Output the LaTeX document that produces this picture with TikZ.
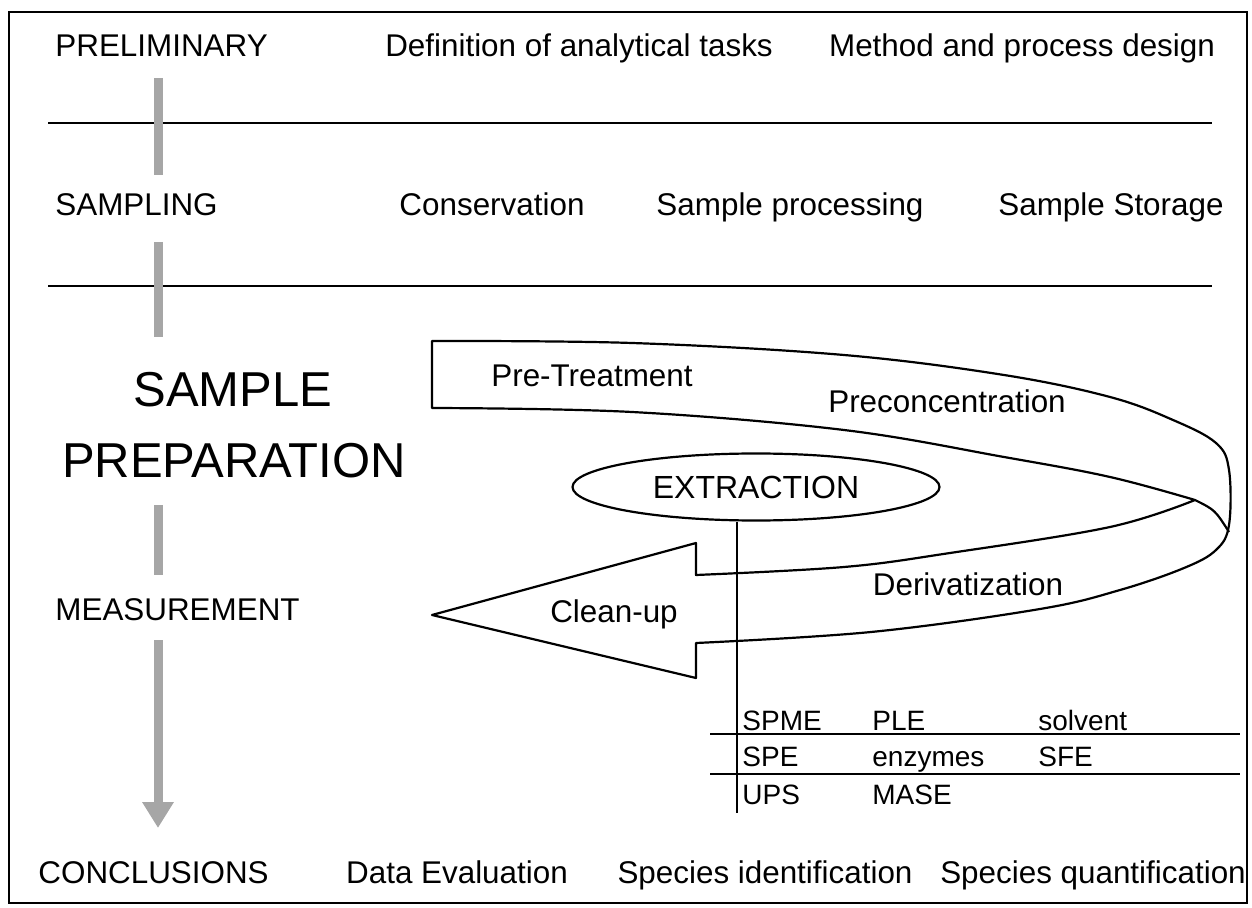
\documentclass[tikz,border=0pt]{standalone}
\usepackage{fontspec}
\setmainfont{Liberation Sans}
\usetikzlibrary{shapes.geometric,arrows.meta}

\tikzset{
  stage/.style={anchor=base west,inner sep=0pt,font=\fontsize{15.7}{18}\selectfont},
  task/.style={anchor=base,inner sep=0pt,font=\fontsize{15.7}{18}\selectfont},
  big/.style={anchor=base,inner sep=0pt,font=\fontsize{24.5}{29}\selectfont},
  cell/.style={anchor=base west,inner sep=0pt,font=\fontsize{14}{16}\selectfont},
  flow/.style={line width=4.5pt,draw=black!35},
  rule/.style={line width=1pt},
}

\begin{document}
\begin{tikzpicture}[x=0.5pt,y=-0.5pt]
  \useasboundingbox (0,0) rectangle (1252,908);
  \draw[rule] (9,12) rectangle (1247,903);

  % stages on the left
  \node[stage] (prelim) at (55,57) {PRELIMINARY};
  \node[stage] (sampling) at (55,216) {SAMPLING};
  \node[big] (prepa) at (233,407) {SAMPLE};
  \node[big] (prepb) at (234,478) {PREPARATION};
  \node[stage] (meas) at (55,620) {MEASUREMENT};
  \node[stage] (concl) at (38,883) {CONCLUSIONS};

  % tasks of each stage
  \node[task] (tdef) at (579,57) {Definition of analytical tasks};
  \node[task] (tmeth) at (1022,57) {Method and process design};
  \node[task] (tcons) at (492,216) {Conservation};
  \node[task] (tproc) at (790,216) {Sample processing};
  \node[task] (tstor) at (1111,216) {Sample Storage};
  \node[task] (teval) at (457,883) {Data Evaluation};
  \node[task] (tident) at (765,883) {Species identification};
  \node[task] (tquant) at (1093,883) {Species quantification};

  % separators
  \draw[rule] (48,123) -- (1212,123);
  \draw[rule] (48,286) -- (1212,286);

  % grey flow down the stages
  \coordinate (fa1) at (158,78);  \coordinate (fa2) at (158,175);
  \coordinate (fb1) at (158,242); \coordinate (fb2) at (158,337);
  \coordinate (fc1) at (158,505); \coordinate (fc2) at (158,575);
  \coordinate (fd1) at (158,640); \coordinate (fd2) at (158,828);
  \draw[flow] (fa1) -- (fa2);
  \draw[flow] (fb1) -- (fb2);
  \draw[flow] (fc1) -- (fc2);
  \draw[flow,-{Triangle[width=15pt,length=13pt]}] (fd1) -- (fd2);

  % spiral arrow
  \draw[line width=1.1pt,line join=round]
    plot[smooth,tension=0.6] coordinates {(432,341) (632,343) (844,355) (1004,375) (1110,397) (1173,420) (1216,443) (1229,470) (1229,525) (1216,550) (1184,568) (1120,590) (1040,609) (871,632) (696,643)}
    -- (696,678) -- (432,615) -- (696,543) -- (696,575)
    -- plot[smooth,tension=0.6] coordinates {(696,575) (844,567) (950,553) (1110,527) (1195,500)}
    -- plot[smooth,tension=0.6] coordinates {(1195,500) (1110,477) (1004,457) (844,430) (632,412) (432,408)}
    -- cycle;
  \draw[line width=1.1pt] (1195,500) .. controls (1215,510) .. (1229,532);

  \node[task] (pretr) at (592,387) {Pre-Treatment};
  \node[task] (precon) at (947,413) {Preconcentration};
  \node[task] (deriv) at (968,596) {Derivatization};
  \node[task] (clean) at (614,622) {Clean-up};
  \node[draw,ellipse,line width=1.1pt,minimum width=183.5pt,minimum height=33.5pt,inner sep=0pt,
        font=\fontsize{16}{18}\selectfont] (extr) at (756,487) {EXTRACTION};

  % extraction techniques
  \coordinate (tabbot) at (737,813);
  \draw[line width=0.8pt] (extr.south -| tabbot) -- (tabbot);
  \draw[rule] (710,734) -- (1240,734);
  \draw[rule] (710,774) -- (1240,774);
  \node[cell] (spme) at (742,730) {SPME};
  \node[cell] (ple) at (872,730) {PLE};
  \node[cell] (solv) at (1038,730) {solvent};
  \node[cell] (spe) at (742,766) {SPE};
  \node[cell] (enz) at (872,766) {enzymes};
  \node[cell] (sfe) at (1038,766) {SFE};
  \node[cell] (ups) at (742,804) {UPS};
  \node[cell] (mase) at (872,804) {MASE};
\end{tikzpicture}
\end{document}
